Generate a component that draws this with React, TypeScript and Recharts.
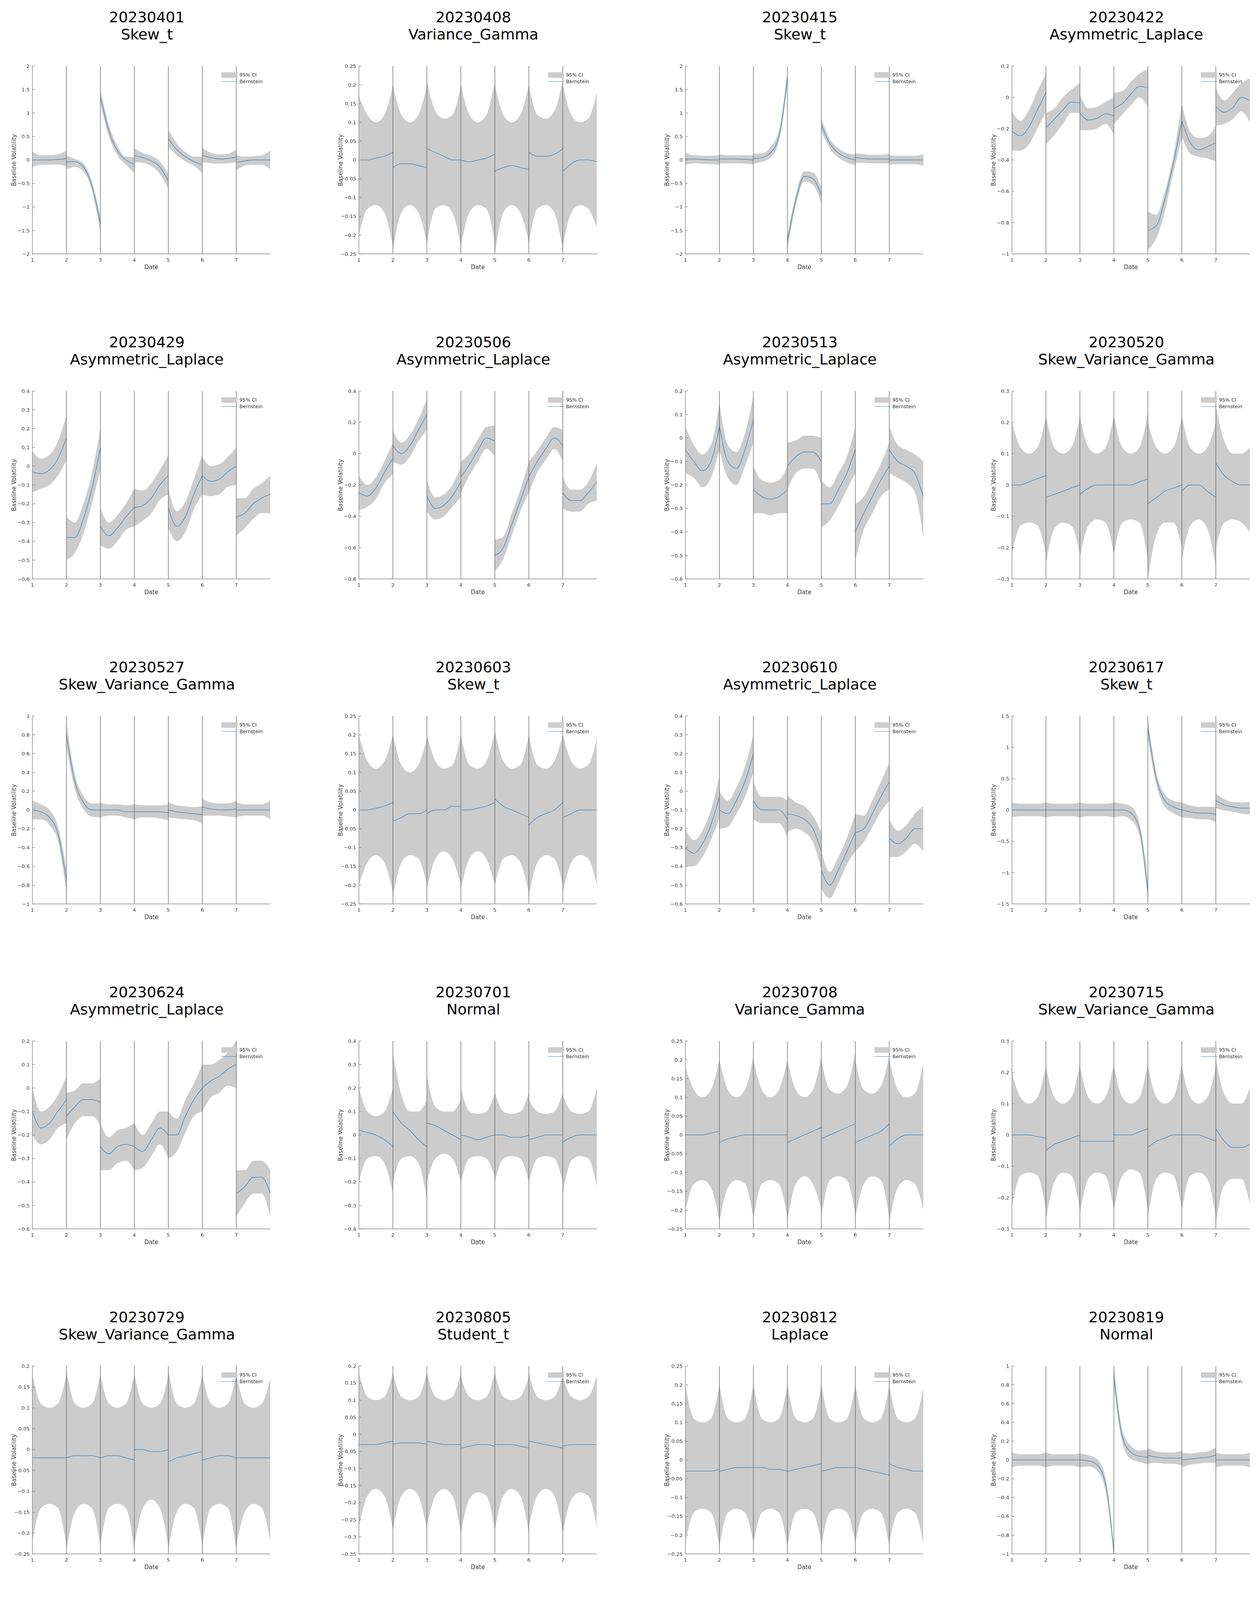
import React from 'react';
import { ComposedChart, Area, Line, XAxis, YAxis, ReferenceLine } from 'recharts';

// panel titles
const dates = [
  '20230401', '20230408', '20230415', '20230422',
  '20230429', '20230506', '20230513', '20230520',
  '20230527', '20230603', '20230610', '20230617',
  '20230624', '20230701', '20230708', '20230715',
  '20230729', '20230805', '20230812', '20230819',
  '20230826', '20230902', '20230909', '20230916',
  '20230923', '20230930', '20231007', '20231014',
];
const dists = [
  'Skew_t', 'Variance_Gamma', 'Skew_t', 'Asymmetric_Laplace',
  'Asymmetric_Laplace', 'Asymmetric_Laplace', 'Asymmetric_Laplace', 'Skew_Variance_Gamma',
  'Skew_Variance_Gamma', 'Skew_t', 'Asymmetric_Laplace', 'Skew_t',
  'Asymmetric_Laplace', 'Normal', 'Variance_Gamma', 'Skew_Variance_Gamma',
  'Skew_Variance_Gamma', 'Student_t', 'Laplace', 'Normal',
  'Variance_Gamma', 'Skew_Variance_Gamma', 'Skew_Variance_Gamma', 'Skew_Variance_Gamma',
  'Asymmetric_Laplace', 'Skew_t', 'Skew_Variance_Gamma', 'Asymmetric_Laplace',
];

// y axis ranges
const yMin = [-2, -0.25, -2, -1, -0.6, -0.8, -0.6, -0.3, -1, -0.25, -0.6, -1.5, -0.6, -0.4, -0.25, -0.3, -0.25, -0.35, -0.25, -1, -0.25, -0.25, -0.25, -0.8, -0.25, -0.25, -0.6, -0.3];
const yMax = [2, 0.25, 2, 0.2, 0.4, 0.4, 0.2, 0.3, 1, 0.25, 0.4, 1.5, 0.2, 0.4, 0.25, 0.3, 0.2, 0.2, 0.25, 1, 0.25, 0.25, 0.25, 0.4, 0.2, 0.25, 0.2, 0.3];
const yStep = [0.5, 0.05, 0.5, 0.2, 0.1, 0.2, 0.1, 0.1, 0.2, 0.05, 0.1, 0.5, 0.1, 0.1, 0.05, 0.1, 0.05, 0.05, 0.05, 0.2, 0.05, 0.05, 0.05, 0.2, 0.05, 0.05, 0.1, 0.1];

// x: each day segment is sampled at these fractions
const sampleOffsets = [0, 0.25, 0.5, 0.75, 1];
const dayTicks = [1, 2, 3, 4, 5, 6, 7];
const dayBreaks = [2, 3, 4, 5, 6, 7];

// Bernstein estimate, per panel, per day, per sample
const mean: number[][][] = [
  [[0, 0, 0, 0.01, 0.03], [-0.04, -0.04, -0.15, -0.55, -1.35], [1.35, 0.62, 0.2, 0, -0.09], [0.09, 0.05, -0.02, -0.15, -0.45], [0.45, 0.22, 0.07, -0.03, -0.1], [0.1, 0.05, 0.02, 0.03, 0.06], [-0.05, -0.02, 0, 0, 0]],
  [[0, 0, 0.005, 0.01, 0.02], [-0.02, -0.01, -0.01, -0.015, -0.02], [0.03, 0.02, 0.01, 0, 0], [0, -0.005, 0, 0.005, 0.015], [-0.03, -0.02, -0.015, -0.02, -0.025], [0.02, 0.01, 0.01, 0.015, 0.03], [-0.03, -0.01, 0, 0, -0.005]],
  [[0.02, 0.02, 0.01, 0, 0], [0.02, 0.02, 0.02, 0.01, 0], [0.03, 0.05, 0.15, 0.5, 1.75], [-1.75, -0.85, -0.35, -0.4, -0.75], [0.75, 0.35, 0.15, 0.05, 0], [0.05, 0.03, 0.02, 0.02, 0.02], [0, 0, 0, 0, 0]],
  [[-0.215, -0.245, -0.19, -0.08, 0.03], [-0.195, -0.14, -0.08, -0.03, -0.035], [-0.1, -0.145, -0.135, -0.105, -0.12], [-0.07, -0.04, 0.02, 0.07, 0.06], [-0.85, -0.82, -0.65, -0.42, -0.15], [-0.15, -0.29, -0.335, -0.315, -0.29], [-0.06, -0.095, -0.065, 0, -0.02]],
  [[-0.03, -0.04, -0.02, 0.04, 0.15], [-0.38, -0.38, -0.28, -0.12, 0.1], [-0.32, -0.37, -0.33, -0.27, -0.22], [-0.22, -0.21, -0.17, -0.1, -0.05], [-0.22, -0.32, -0.27, -0.15, -0.05], [-0.05, -0.08, -0.07, -0.03, 0], [-0.27, -0.25, -0.2, -0.17, -0.15]],
  [[-0.25, -0.27, -0.22, -0.12, -0.03], [0.05, 0, 0.05, 0.15, 0.25], [-0.27, -0.35, -0.33, -0.27, -0.18], [-0.15, -0.07, 0.02, 0.1, 0.08], [-0.65, -0.6, -0.45, -0.3, -0.15], [-0.15, -0.05, 0.03, 0.1, 0.05], [-0.25, -0.3, -0.3, -0.25, -0.18]],
  [[-0.05, -0.1, -0.14, -0.1, 0.05], [0.05, -0.1, -0.13, -0.05, 0.08], [-0.22, -0.25, -0.26, -0.25, -0.22], [-0.12, -0.08, -0.06, -0.06, -0.1], [-0.28, -0.28, -0.22, -0.15, -0.05], [-0.4, -0.32, -0.25, -0.18, -0.12], [-0.05, -0.1, -0.12, -0.15, -0.25]],
  [[0, 0, 0.01, 0.02, 0.03], [-0.04, -0.03, -0.02, -0.01, 0], [-0.03, -0.01, 0, 0, 0], [0, 0, 0, 0.01, 0.02], [-0.06, -0.04, -0.02, -0.01, 0], [-0.02, 0, 0, -0.02, -0.04], [0.07, 0.03, 0.01, 0, 0]],
  [[0, -0.02, -0.08, -0.25, -0.75], [0.8, 0.3, 0.08, 0, 0], [0, 0, 0, -0.02, -0.02], [-0.02, -0.02, -0.02, -0.02, -0.03], [0, -0.02, -0.03, -0.04, -0.05], [0.03, 0.01, 0, 0, 0.01], [0, 0, 0, 0, 0]],
  [[0, 0, 0.005, 0.01, 0.02], [-0.03, -0.02, -0.01, -0.01, 0], [-0.01, 0, 0, 0.01, 0.01], [0, 0, 0.005, 0.01, 0.02], [0.03, 0.01, 0, -0.01, -0.02], [-0.04, -0.02, -0.01, 0, 0.02], [-0.02, -0.01, 0, 0, 0]],
  [[-0.3, -0.33, -0.28, -0.18, -0.03], [-0.1, -0.12, -0.05, 0.05, 0.2], [-0.05, -0.1, -0.1, -0.1, -0.15], [-0.12, -0.13, -0.15, -0.2, -0.32], [-0.42, -0.5, -0.42, -0.32, -0.22], [-0.22, -0.2, -0.12, -0.03, 0.05], [-0.25, -0.28, -0.25, -0.2, -0.2]],
  [[0, 0, 0, 0, 0], [0, 0, 0, 0, 0], [0, 0, 0, 0, 0], [0, 0, -0.05, -0.3, -1.3], [1.3, 0.5, 0.15, 0.05, 0], [0, -0.03, -0.05, -0.05, -0.07], [0.15, 0.08, 0.05, 0.03, 0.03]],
  [[-0.1, -0.17, -0.15, -0.1, -0.05], [-0.12, -0.08, -0.05, -0.05, -0.06], [-0.25, -0.28, -0.25, -0.24, -0.25], [-0.25, -0.27, -0.22, -0.17, -0.2], [-0.2, -0.2, -0.12, -0.05, 0], [0, 0.03, 0.05, 0.08, 0.1], [-0.45, -0.42, -0.38, -0.38, -0.45]],
  [[0.02, 0.01, 0, -0.02, -0.05], [0.1, 0.05, 0.02, -0.02, -0.05], [0.05, 0.04, 0.02, 0, -0.02], [0, -0.01, -0.02, -0.01, 0], [0, 0, -0.01, -0.01, 0], [-0.02, -0.01, 0, 0, 0], [-0.03, -0.01, 0, 0, 0]],
  [[0, 0, 0, 0.005, 0.01], [-0.02, -0.01, -0.005, 0, 0], [0, 0, 0, 0, 0], [-0.02, -0.01, 0, 0.01, 0.02], [-0.01, 0, 0.01, 0.02, 0.03], [-0.02, -0.01, 0, 0.01, 0.03], [-0.03, -0.01, 0, 0, 0]],
  [[0, 0, 0, -0.005, -0.01], [-0.05, -0.03, -0.02, -0.01, 0], [-0.02, -0.02, -0.02, -0.02, -0.02], [0, 0, 0, 0.01, 0.02], [-0.04, -0.02, -0.01, 0, 0], [0, 0, 0, -0.01, -0.02], [0.02, -0.02, -0.04, -0.04, -0.03]],
  [[-0.02, -0.02, -0.02, -0.02, -0.02], [-0.02, -0.015, -0.015, -0.015, -0.02], [-0.02, -0.015, -0.015, -0.02, -0.025], [0, 0, -0.005, -0.005, 0], [-0.03, -0.02, -0.015, -0.01, -0.005], [-0.025, -0.02, -0.015, -0.015, -0.02], [-0.02, -0.02, -0.02, -0.02, -0.02]],
  [[-0.03, -0.03, -0.03, -0.025, -0.02], [-0.03, -0.025, -0.025, -0.025, -0.03], [-0.02, -0.025, -0.03, -0.03, -0.03], [-0.04, -0.035, -0.03, -0.03, -0.035], [-0.03, -0.03, -0.03, -0.035, -0.04], [-0.02, -0.025, -0.03, -0.035, -0.04], [-0.035, -0.03, -0.03, -0.03, -0.03]],
  [[-0.03, -0.03, -0.03, -0.03, -0.025], [-0.03, -0.025, -0.02, -0.02, -0.02], [-0.02, -0.02, -0.025, -0.025, -0.03], [-0.03, -0.025, -0.02, -0.015, -0.01], [-0.03, -0.025, -0.02, -0.02, -0.02], [-0.02, -0.025, -0.03, -0.035, -0.04], [-0.01, -0.02, -0.025, -0.03, -0.03]],
  [[0, 0, 0, 0, 0], [0, 0, 0, 0, 0], [0, -0.01, -0.05, -0.25, -1], [0.9, 0.25, 0.08, 0.04, 0.03], [0.05, 0.03, 0.02, 0.02, 0.02], [0, 0.01, 0.02, 0.03, 0.05], [0, 0, 0, 0, 0]],
  [[-0.01, -0.01, -0.005, 0, 0], [0, 0.005, 0.005, 0, -0.01], [0.01, 0.005, 0, 0, 0], [0, 0, 0, 0.005, 0.01], [-0.02, -0.015, -0.01, -0.005, 0.01], [-0.02, -0.015, -0.01, -0.015, -0.02], [0.01, 0.005, 0, 0, 0]],
  [[0, 0.005, 0.01, 0.02, 0.03], [-0.02, -0.01, 0, 0.01, 0.02], [-0.03, -0.02, -0.01, -0.005, 0], [0, -0.01, 0, 0.01, 0.03], [-0.02, -0.02, -0.02, -0.02, -0.02], [0.01, 0, -0.005, -0.005, 0], [0, 0, 0, 0, -0.005]],
  [[0, 0, 0, 0, -0.01], [-0.01, -0.005, 0, 0.005, 0.01], [-0.02, -0.015, -0.01, -0.01, -0.01], [0.01, 0, -0.01, -0.01, -0.01], [0, -0.01, -0.015, -0.02, -0.02], [0, 0, 0.005, 0.01, 0.02], [-0.03, -0.015, -0.005, 0, 0]],
  [[0.05, -0.05, -0.12, -0.2, -0.28], [-0.15, -0.25, -0.28, -0.2, 0], [-0.35, -0.32, -0.28, -0.22, -0.17], [-0.55, -0.4, -0.28, -0.18, -0.15], [-0.25, -0.22, -0.2, -0.2, -0.25], [-0.2, -0.25, -0.25, -0.22, -0.18], [0, -0.08, -0.12, -0.13, -0.2]],
  [[-0.005, -0.008, -0.01, -0.013, -0.018], [0.001, -0.005, -0.008, -0.01, -0.015], [-0.001, -0.003, -0.004, -0.004, -0.002], [-0.013, -0.012, -0.012, -0.013, -0.017], [0.003, -0.002, -0.006, -0.007, -0.007], [-0.01, -0.01, -0.01, -0.007, 0], [-0.015, -0.008, -0.004, -0.004, -0.006]],
  [[-0.005, 0, 0.005, 0.01, 0.02], [-0.03, -0.02, -0.01, -0.01, -0.01], [-0.01, -0.01, -0.01, -0.005, 0], [0, -0.01, -0.01, -0.01, -0.02], [0.02, 0.01, 0, -0.01, -0.02], [0.01, 0.01, 0, 0, 0], [0, 0, 0, 0, 0]],
  [[-0.08, -0.08, -0.1, -0.16, -0.3], [-0.32, -0.22, -0.12, -0.05, 0.02], [-0.25, -0.25, -0.22, -0.18, -0.15], [-0.2, -0.17, -0.12, -0.1, -0.15], [-0.35, -0.3, -0.27, -0.27, -0.3], [-0.3, -0.18, -0.08, -0.02, -0.05], [-0.28, -0.38, -0.3, -0.18, -0.08]],
  [[0, 0, 0, 0, 0], [0, 0, 0, 0.01, 0.02], [-0.02, -0.01, 0, 0.01, 0.03], [0.01, 0, -0.01, -0.01, -0.02], [0.02, 0, -0.01, -0.01, 0], [-0.01, -0.02, -0.02, -0.01, 0.02], [0.02, 0, -0.01, -0.01, -0.01]],
];

// upper edge of the 95% CI
const upper: number[][][] = [
  [[0.18, 0.1, 0.1, 0.12, 0.2], [0.1, 0.02, -0.07, -0.45, -1.2], [1.5, 0.75, 0.3, 0.07, 0.06], [0.25, 0.15, 0.09, -0.03, -0.3], [0.65, 0.35, 0.17, 0.07, 0.07], [0.27, 0.15, 0.12, 0.13, 0.23], [0.1, 0.07, 0.08, 0.1, 0.2]],
  [[0.17, 0.12, 0.1, 0.12, 0.2], [0.2, 0.12, 0.1, 0.12, 0.2], [0.21, 0.13, 0.11, 0.12, 0.2], [0.2, 0.12, 0.1, 0.12, 0.21], [0.2, 0.12, 0.1, 0.12, 0.2], [0.2, 0.12, 0.11, 0.13, 0.21], [0.2, 0.12, 0.1, 0.11, 0.18]],
  [[0.15, 0.1, 0.09, 0.09, 0.1], [0.12, 0.1, 0.1, 0.1, 0.1], [0.13, 0.14, 0.27, 0.63, 1.88], [-1.6, -0.73, -0.24, -0.27, -0.58], [0.88, 0.45, 0.25, 0.15, 0.12], [0.15, 0.12, 0.11, 0.11, 0.13], [0.1, 0.09, 0.09, 0.09, 0.12]],
  [[-0.09, -0.15, -0.08, 0.04, 0.15], [-0.1, -0.07, 0, 0.05, 0.09], [0.02, -0.07, -0.06, -0.03, 0], [0.03, 0.04, 0.1, 0.15, 0.18], [-0.73, -0.75, -0.6, -0.37, -0.04], [-0.04, -0.22, -0.26, -0.25, -0.18], [0.06, -0.02, 0.03, 0.09, 0.12]],
  [[0.08, 0.04, 0.06, 0.13, 0.27], [-0.27, -0.3, -0.2, -0.04, 0.2], [-0.22, -0.3, -0.26, -0.2, -0.12], [-0.12, -0.13, -0.09, -0.02, 0.06], [-0.12, -0.24, -0.19, -0.07, 0.06], [0.05, 0, 0.01, 0.05, 0.1], [-0.17, -0.17, -0.12, -0.09, -0.05]],
  [[-0.14, -0.2, -0.15, -0.05, 0.07], [0.15, 0.07, 0.12, 0.22, 0.35], [-0.17, -0.28, -0.26, -0.2, -0.08], [-0.05, 0, 0.09, 0.17, 0.18], [-0.55, -0.53, -0.38, -0.23, -0.05], [-0.05, 0.02, 0.1, 0.17, 0.15], [-0.15, -0.23, -0.23, -0.18, -0.06]],
  [[0.05, -0.03, -0.07, -0.03, 0.15], [0.15, -0.03, -0.06, 0.02, 0.18], [-0.12, -0.18, -0.19, -0.18, -0.12], [-0.02, -0.01, 0.01, 0.01, 0], [-0.18, -0.21, -0.15, -0.08, 0.05], [-0.28, -0.25, -0.18, -0.11, -0.02], [0.05, -0.03, -0.05, -0.07, -0.1]],
  [[0.2, 0.12, 0.1, 0.12, 0.22], [0.22, 0.12, 0.1, 0.12, 0.22], [0.22, 0.12, 0.1, 0.12, 0.22], [0.22, 0.12, 0.1, 0.12, 0.23], [0.2, 0.12, 0.1, 0.12, 0.22], [0.22, 0.12, 0.1, 0.12, 0.2], [0.25, 0.14, 0.1, 0.1, 0.12]],
  [[0.1, 0.06, 0, -0.17, -0.62], [0.93, 0.38, 0.15, 0.07, 0.07], [0.08, 0.06, 0.06, 0.05, 0.06], [0.06, 0.05, 0.05, 0.05, 0.06], [0.08, 0.05, 0.04, 0.03, 0.04], [0.12, 0.08, 0.07, 0.07, 0.1], [0.08, 0.06, 0.06, 0.06, 0.1]],
  [[0.2, 0.13, 0.11, 0.13, 0.2], [0.2, 0.12, 0.1, 0.12, 0.19], [0.2, 0.13, 0.11, 0.12, 0.2], [0.2, 0.12, 0.11, 0.13, 0.21], [0.21, 0.13, 0.11, 0.12, 0.2], [0.2, 0.12, 0.11, 0.13, 0.2], [0.2, 0.13, 0.11, 0.12, 0.19]],
  [[-0.2, -0.26, -0.21, -0.1, 0.08], [0, -0.05, 0.02, 0.13, 0.3], [0.05, -0.03, -0.03, -0.03, -0.05], [-0.02, -0.06, -0.08, -0.13, -0.22], [-0.32, -0.43, -0.35, -0.25, -0.12], [-0.12, -0.13, -0.05, 0.05, 0.15], [-0.15, -0.21, -0.18, -0.12, -0.08]],
  [[0.12, 0.1, 0.1, 0.1, 0.12], [0.12, 0.1, 0.1, 0.1, 0.12], [0.12, 0.1, 0.1, 0.1, 0.12], [0.12, 0.1, 0.06, -0.2, -1.15], [1.45, 0.6, 0.25, 0.15, 0.12], [0.12, 0.07, 0.05, 0.05, 0.05], [0.27, 0.17, 0.13, 0.12, 0.13]],
  [[0, -0.1, -0.08, -0.03, 0.05], [-0.02, -0.01, 0.02, 0.02, 0.04], [-0.15, -0.21, -0.18, -0.17, -0.15], [-0.15, -0.2, -0.15, -0.1, -0.1], [-0.1, -0.13, -0.05, 0.02, 0.1], [0.1, 0.1, 0.12, 0.15, 0.2], [-0.35, -0.35, -0.31, -0.31, -0.35]],
  [[0.2, 0.1, 0.08, 0.1, 0.2], [0.35, 0.17, 0.1, 0.1, 0.15], [0.25, 0.12, 0.1, 0.1, 0.15], [0.2, 0.1, 0.09, 0.1, 0.18], [0.18, 0.1, 0.09, 0.1, 0.18], [0.15, 0.1, 0.09, 0.1, 0.18], [0.17, 0.1, 0.09, 0.1, 0.2]],
  [[0.18, 0.12, 0.1, 0.12, 0.2], [0.2, 0.12, 0.1, 0.12, 0.21], [0.2, 0.12, 0.1, 0.12, 0.2], [0.2, 0.12, 0.1, 0.12, 0.21], [0.2, 0.12, 0.11, 0.13, 0.22], [0.2, 0.12, 0.11, 0.13, 0.21], [0.2, 0.12, 0.1, 0.11, 0.19]],
  [[0.2, 0.12, 0.1, 0.12, 0.22], [0.22, 0.12, 0.1, 0.12, 0.23], [0.22, 0.12, 0.1, 0.12, 0.23], [0.22, 0.12, 0.1, 0.12, 0.23], [0.22, 0.12, 0.1, 0.12, 0.23], [0.22, 0.12, 0.1, 0.12, 0.22], [0.24, 0.13, 0.1, 0.1, 0.15]],
  [[0.18, 0.11, 0.1, 0.11, 0.18], [0.19, 0.11, 0.1, 0.11, 0.18], [0.18, 0.11, 0.1, 0.11, 0.18], [0.18, 0.11, 0.1, 0.11, 0.18], [0.19, 0.11, 0.1, 0.11, 0.18], [0.18, 0.11, 0.1, 0.11, 0.18], [0.18, 0.11, 0.1, 0.11, 0.17]],
  [[0.18, 0.11, 0.1, 0.11, 0.18], [0.18, 0.11, 0.1, 0.11, 0.18], [0.18, 0.11, 0.1, 0.11, 0.18], [0.17, 0.11, 0.1, 0.11, 0.18], [0.18, 0.11, 0.1, 0.11, 0.17], [0.18, 0.11, 0.1, 0.11, 0.17], [0.17, 0.11, 0.1, 0.11, 0.17]],
  [[0.2, 0.11, 0.1, 0.11, 0.2], [0.2, 0.11, 0.1, 0.11, 0.2], [0.2, 0.11, 0.1, 0.11, 0.2], [0.2, 0.11, 0.1, 0.11, 0.2], [0.2, 0.11, 0.1, 0.11, 0.2], [0.2, 0.11, 0.1, 0.11, 0.2], [0.2, 0.11, 0.1, 0.11, 0.19]],
  [[0.08, 0.06, 0.06, 0.06, 0.08], [0.08, 0.06, 0.06, 0.06, 0.07], [0.07, 0.05, 0.01, -0.18, -0.9], [1, 0.32, 0.15, 0.1, 0.11], [0.13, 0.09, 0.08, 0.08, 0.1], [0.08, 0.07, 0.08, 0.09, 0.13], [0.08, 0.06, 0.06, 0.06, 0.08]],
  [[0.19, 0.12, 0.1, 0.12, 0.2], [0.2, 0.12, 0.1, 0.12, 0.2], [0.2, 0.12, 0.1, 0.12, 0.2], [0.2, 0.12, 0.1, 0.12, 0.21], [0.2, 0.12, 0.1, 0.12, 0.21], [0.2, 0.12, 0.1, 0.12, 0.2], [0.2, 0.12, 0.1, 0.11, 0.19]],
  [[0.19, 0.12, 0.1, 0.12, 0.21], [0.2, 0.12, 0.1, 0.12, 0.22], [0.2, 0.12, 0.1, 0.12, 0.2], [0.2, 0.12, 0.1, 0.12, 0.22], [0.2, 0.12, 0.1, 0.12, 0.2], [0.2, 0.12, 0.1, 0.12, 0.2], [0.2, 0.12, 0.1, 0.11, 0.19]],
  [[0.19, 0.12, 0.1, 0.12, 0.2], [0.2, 0.12, 0.1, 0.12, 0.21], [0.2, 0.12, 0.1, 0.12, 0.2], [0.21, 0.12, 0.1, 0.12, 0.2], [0.2, 0.12, 0.1, 0.12, 0.2], [0.2, 0.12, 0.1, 0.12, 0.21], [0.2, 0.12, 0.1, 0.11, 0.19]],
  [[0.18, 0.05, -0.03, -0.11, -0.16], [-0.03, -0.16, -0.2, -0.11, 0.12], [-0.23, -0.24, -0.2, -0.14, -0.05], [-0.43, -0.31, -0.2, -0.1, -0.03], [-0.13, -0.14, -0.12, -0.12, -0.13], [-0.08, -0.17, -0.17, -0.14, -0.06], [0.12, 0.01, -0.04, -0.05, -0.08]],
  [[0.2, 0.12, 0.095, 0.11, 0.17], [0.18, 0.11, 0.11, 0.115, 0.17], [0.18, 0.11, 0.11, 0.115, 0.17], [0.17, 0.1, 0.09, 0.105, 0.17], [0.17, 0.11, 0.1, 0.11, 0.17], [0.17, 0.11, 0.1, 0.11, 0.16], [0.16, 0.11, 0.105, 0.12, 0.19]],
  [[0.2, 0.12, 0.1, 0.12, 0.2], [0.2, 0.12, 0.1, 0.12, 0.2], [0.2, 0.12, 0.1, 0.12, 0.2], [0.2, 0.12, 0.1, 0.12, 0.21], [0.2, 0.12, 0.1, 0.12, 0.2], [0.2, 0.12, 0.1, 0.12, 0.2], [0.2, 0.12, 0.1, 0.11, 0.18]],
  [[0.05, 0, -0.02, -0.08, -0.18], [-0.2, -0.14, -0.04, 0.03, 0.14], [-0.13, -0.17, -0.14, -0.1, -0.03], [-0.08, -0.09, -0.04, -0.02, -0.03], [-0.23, -0.22, -0.19, -0.19, -0.18], [-0.18, -0.1, 0, 0.06, 0.07], [-0.16, -0.3, -0.22, -0.1, 0.04]],
  [[0.2, 0.11, 0.1, 0.11, 0.2], [0.2, 0.11, 0.1, 0.11, 0.21], [0.21, 0.11, 0.1, 0.12, 0.22], [0.2, 0.11, 0.1, 0.11, 0.2], [0.2, 0.11, 0.1, 0.11, 0.2], [0.2, 0.11, 0.1, 0.11, 0.2], [0.2, 0.11, 0.1, 0.11, 0.19]],
];

// lower edge of the 95% CI
const lower: number[][][] = [
  [[-0.15, -0.1, -0.1, -0.1, -0.13], [-0.2, -0.15, -0.25, -0.65, -1.55], [1.2, 0.5, 0.1, -0.1, -0.27], [-0.05, -0.06, -0.13, -0.3, -0.62], [0.28, 0.1, -0.03, -0.12, -0.28], [-0.05, -0.07, -0.08, -0.07, -0.05], [-0.22, -0.12, -0.1, -0.1, -0.2]],
  [[-0.2, -0.13, -0.12, -0.14, -0.23], [-0.24, -0.14, -0.12, -0.14, -0.22], [-0.22, -0.13, -0.12, -0.14, -0.23], [-0.23, -0.14, -0.12, -0.13, -0.22], [-0.25, -0.14, -0.12, -0.14, -0.22], [-0.22, -0.13, -0.12, -0.14, -0.24], [-0.23, -0.14, -0.12, -0.13, -0.18]],
  [[-0.1, -0.07, -0.08, -0.09, -0.1], [-0.08, -0.07, -0.07, -0.08, -0.1], [-0.08, -0.04, 0.05, 0.38, 1.6], [-1.9, -0.97, -0.46, -0.53, -0.92], [0.6, 0.25, 0.05, -0.05, -0.12], [-0.06, -0.06, -0.07, -0.07, -0.08], [-0.1, -0.09, -0.09, -0.09, -0.12]],
  [[-0.34, -0.34, -0.3, -0.2, -0.09], [-0.3, -0.24, -0.17, -0.1, -0.1], [-0.21, -0.21, -0.2, -0.17, -0.24], [-0.17, -0.11, -0.05, 0, -0.06], [-0.97, -0.9, -0.73, -0.48, -0.26], [-0.25, -0.36, -0.38, -0.39, -0.41], [-0.18, -0.17, -0.14, -0.09, -0.16]],
  [[-0.14, -0.12, -0.1, -0.05, 0.03], [-0.5, -0.46, -0.36, -0.2, -0.02], [-0.42, -0.44, -0.4, -0.34, -0.32], [-0.32, -0.29, -0.25, -0.18, -0.15], [-0.33, -0.4, -0.35, -0.23, -0.15], [-0.15, -0.16, -0.15, -0.11, -0.1], [-0.37, -0.33, -0.28, -0.25, -0.25]],
  [[-0.36, -0.34, -0.29, -0.19, -0.13], [-0.05, -0.07, -0.02, 0.08, 0.15], [-0.37, -0.42, -0.4, -0.34, -0.28], [-0.25, -0.14, -0.05, 0.03, -0.02], [-0.75, -0.67, -0.52, -0.37, -0.25], [-0.25, -0.12, -0.04, 0.03, -0.05], [-0.35, -0.37, -0.37, -0.32, -0.3]],
  [[-0.15, -0.17, -0.21, -0.17, -0.05], [-0.05, -0.17, -0.2, -0.12, -0.02], [-0.32, -0.32, -0.33, -0.32, -0.32], [-0.22, -0.15, -0.13, -0.13, -0.2], [-0.38, -0.35, -0.29, -0.22, -0.15], [-0.52, -0.39, -0.32, -0.25, -0.22], [-0.15, -0.17, -0.19, -0.23, -0.42]],
  [[-0.22, -0.13, -0.12, -0.13, -0.22], [-0.25, -0.14, -0.12, -0.13, -0.22], [-0.23, -0.13, -0.11, -0.12, -0.22], [-0.22, -0.12, -0.11, -0.12, -0.24], [-0.3, -0.16, -0.12, -0.12, -0.2], [-0.24, -0.13, -0.11, -0.14, -0.26], [-0.2, -0.12, -0.11, -0.12, -0.15]],
  [[-0.1, -0.1, -0.16, -0.33, -0.88], [0.67, 0.22, 0.01, -0.07, -0.08], [-0.08, -0.06, -0.06, -0.08, -0.1], [-0.1, -0.08, -0.08, -0.09, -0.11], [-0.08, -0.09, -0.1, -0.11, -0.14], [-0.06, -0.06, -0.06, -0.07, -0.08], [-0.08, -0.06, -0.06, -0.06, -0.1]],
  [[-0.2, -0.14, -0.12, -0.14, -0.22], [-0.23, -0.14, -0.12, -0.13, -0.2], [-0.21, -0.13, -0.11, -0.13, -0.2], [-0.21, -0.13, -0.11, -0.13, -0.2], [-0.2, -0.13, -0.12, -0.14, -0.22], [-0.23, -0.14, -0.12, -0.13, -0.2], [-0.22, -0.14, -0.12, -0.13, -0.2]],
  [[-0.4, -0.4, -0.35, -0.26, -0.14], [-0.2, -0.19, -0.12, -0.03, 0.1], [-0.15, -0.17, -0.17, -0.17, -0.25], [-0.22, -0.2, -0.22, -0.27, -0.42], [-0.52, -0.57, -0.49, -0.39, -0.32], [-0.32, -0.27, -0.19, -0.11, -0.05], [-0.35, -0.35, -0.32, -0.28, -0.32]],
  [[-0.12, -0.1, -0.1, -0.1, -0.12], [-0.12, -0.1, -0.1, -0.1, -0.12], [-0.12, -0.1, -0.1, -0.1, -0.12], [-0.12, -0.1, -0.16, -0.4, -1.45], [1.15, 0.4, 0.05, -0.05, -0.12], [-0.12, -0.13, -0.15, -0.15, -0.2], [0.03, -0.01, -0.03, -0.06, -0.07]],
  [[-0.2, -0.24, -0.22, -0.17, -0.15], [-0.22, -0.15, -0.12, -0.12, -0.16], [-0.35, -0.35, -0.32, -0.31, -0.35], [-0.35, -0.34, -0.29, -0.24, -0.3], [-0.3, -0.27, -0.19, -0.12, -0.1], [-0.1, -0.04, -0.02, 0.01, 0], [-0.55, -0.49, -0.45, -0.45, -0.55]],
  [[-0.2, -0.1, -0.09, -0.12, -0.25], [-0.2, -0.1, -0.09, -0.12, -0.27], [-0.2, -0.1, -0.08, -0.1, -0.2], [-0.2, -0.1, -0.09, -0.1, -0.18], [-0.2, -0.1, -0.09, -0.1, -0.2], [-0.2, -0.1, -0.09, -0.1, -0.2], [-0.25, -0.11, -0.09, -0.1, -0.22]],
  [[-0.2, -0.13, -0.12, -0.14, -0.23], [-0.23, -0.14, -0.12, -0.13, -0.22], [-0.22, -0.13, -0.12, -0.13, -0.22], [-0.23, -0.13, -0.11, -0.13, -0.2], [-0.22, -0.12, -0.11, -0.12, -0.21], [-0.22, -0.13, -0.11, -0.12, -0.22], [-0.23, -0.14, -0.12, -0.13, -0.2]],
  [[-0.23, -0.13, -0.12, -0.13, -0.24], [-0.27, -0.15, -0.12, -0.13, -0.24], [-0.25, -0.14, -0.12, -0.13, -0.24], [-0.24, -0.13, -0.11, -0.12, -0.24], [-0.26, -0.14, -0.12, -0.13, -0.24], [-0.24, -0.13, -0.12, -0.14, -0.26], [-0.28, -0.16, -0.14, -0.14, -0.22]],
  [[-0.22, -0.14, -0.13, -0.14, -0.23], [-0.24, -0.15, -0.13, -0.14, -0.23], [-0.23, -0.14, -0.13, -0.14, -0.24], [-0.23, -0.14, -0.12, -0.14, -0.23], [-0.24, -0.15, -0.13, -0.14, -0.23], [-0.23, -0.14, -0.13, -0.14, -0.24], [-0.23, -0.15, -0.13, -0.14, -0.22]],
  [[-0.27, -0.18, -0.16, -0.18, -0.28], [-0.28, -0.18, -0.16, -0.18, -0.28], [-0.27, -0.18, -0.16, -0.18, -0.29], [-0.29, -0.19, -0.17, -0.18, -0.28], [-0.28, -0.18, -0.16, -0.18, -0.29], [-0.27, -0.18, -0.16, -0.18, -0.29], [-0.29, -0.19, -0.17, -0.18, -0.27]],
  [[-0.22, -0.14, -0.13, -0.14, -0.23], [-0.23, -0.14, -0.13, -0.14, -0.22], [-0.22, -0.14, -0.13, -0.14, -0.23], [-0.23, -0.14, -0.13, -0.14, -0.22], [-0.23, -0.14, -0.13, -0.14, -0.22], [-0.22, -0.14, -0.13, -0.14, -0.23], [-0.22, -0.14, -0.13, -0.14, -0.22]],
  [[-0.08, -0.06, -0.06, -0.06, -0.08], [-0.08, -0.06, -0.06, -0.06, -0.08], [-0.08, -0.07, -0.11, -0.32, -1], [0.78, 0.18, 0.01, -0.02, -0.05], [-0.04, -0.03, -0.04, -0.04, -0.06], [-0.08, -0.05, -0.04, -0.03, -0.03], [-0.08, -0.06, -0.06, -0.06, -0.08]],
  [[-0.21, -0.13, -0.12, -0.13, -0.22], [-0.22, -0.13, -0.12, -0.13, -0.22], [-0.22, -0.13, -0.12, -0.13, -0.22], [-0.22, -0.13, -0.12, -0.13, -0.21], [-0.23, -0.13, -0.12, -0.13, -0.21], [-0.23, -0.14, -0.12, -0.13, -0.22], [-0.21, -0.13, -0.12, -0.13, -0.2]],
  [[-0.21, -0.13, -0.12, -0.13, -0.2], [-0.23, -0.13, -0.12, -0.13, -0.2], [-0.24, -0.14, -0.12, -0.13, -0.21], [-0.22, -0.13, -0.12, -0.13, -0.2], [-0.23, -0.13, -0.12, -0.13, -0.21], [-0.21, -0.13, -0.12, -0.13, -0.21], [-0.22, -0.13, -0.12, -0.13, -0.2]],
  [[-0.21, -0.13, -0.12, -0.13, -0.22], [-0.22, -0.13, -0.12, -0.13, -0.21], [-0.23, -0.14, -0.12, -0.13, -0.21], [-0.21, -0.13, -0.12, -0.13, -0.22], [-0.22, -0.13, -0.12, -0.13, -0.22], [-0.21, -0.13, -0.12, -0.13, -0.21], [-0.23, -0.14, -0.12, -0.13, -0.2]],
  [[-0.08, -0.15, -0.21, -0.29, -0.4], [-0.27, -0.34, -0.36, -0.29, -0.12], [-0.47, -0.4, -0.36, -0.3, -0.29], [-0.67, -0.49, -0.36, -0.26, -0.27], [-0.37, -0.3, -0.28, -0.28, -0.37], [-0.32, -0.33, -0.33, -0.3, -0.3], [-0.12, -0.17, -0.2, -0.21, -0.32]],
  [[-0.2, -0.13, -0.115, -0.13, -0.2], [-0.19, -0.125, -0.12, -0.13, -0.19], [-0.19, -0.115, -0.11, -0.13, -0.2], [-0.2, -0.125, -0.115, -0.125, -0.19], [-0.19, -0.12, -0.12, -0.125, -0.19], [-0.19, -0.125, -0.12, -0.12, -0.19], [-0.19, -0.12, -0.115, -0.125, -0.18]],
  [[-0.21, -0.14, -0.12, -0.14, -0.22], [-0.23, -0.14, -0.12, -0.14, -0.21], [-0.22, -0.14, -0.12, -0.14, -0.22], [-0.21, -0.14, -0.12, -0.14, -0.22], [-0.21, -0.14, -0.12, -0.14, -0.22], [-0.22, -0.14, -0.12, -0.14, -0.21], [-0.22, -0.14, -0.12, -0.13, -0.2]],
  [[-0.21, -0.16, -0.18, -0.24, -0.42], [-0.44, -0.3, -0.2, -0.13, -0.1], [-0.37, -0.33, -0.3, -0.26, -0.27], [-0.32, -0.25, -0.2, -0.18, -0.27], [-0.47, -0.38, -0.35, -0.35, -0.42], [-0.42, -0.26, -0.16, -0.1, -0.17], [-0.4, -0.46, -0.38, -0.26, -0.2]],
  [[-0.22, -0.13, -0.12, -0.13, -0.22], [-0.22, -0.13, -0.12, -0.13, -0.21], [-0.23, -0.13, -0.12, -0.13, -0.21], [-0.22, -0.13, -0.12, -0.13, -0.22], [-0.21, -0.13, -0.12, -0.13, -0.22], [-0.22, -0.13, -0.12, -0.13, -0.21], [-0.21, -0.13, -0.12, -0.13, -0.2]],
];

const CELL_W = 836;
const CELL_H = 832;
const CHART_H = 720;
const PLOT_L = 83;
const PLOT_T = 169;
const PLOT_W = 609;
const PLOT_H = 481;

const FONT = '"DejaVu Sans", Verdana, sans-serif';
const AXIS = '#8a8a8a';
const TEXT = '#404040';
const BAND = '#cccccc';
const BLUE = '#4a86b8';

function fmt(v: number) {
  const r = Math.round(v * 1000) / 1000;
  return r < 0 ? '\u2212' + String(-r) : String(r);
}

function buildRows(i: number) {
  const rows: any[] = [];
  mean[i].forEach((seg, s) => {
    // a null row breaks the curve between days
    if (s > 0) rows.push({ x: s + 1, m: null, band: null });
    seg.forEach((v, k) => {
      rows.push({ x: s + 1 + sampleOffsets[k], m: v, band: [lower[i][s][k], upper[i][s][k]] });
    });
  });
  return rows;
}

function yTicks(i: number) {
  const n = Math.round((yMax[i] - yMin[i]) / yStep[i]);
  return Array.from({ length: n + 1 }, (_, k) => Math.round((yMin[i] + k * yStep[i]) * 1000) / 1000);
}

function YTick(props: any) {
  const { x, y, payload } = props;
  return (
    <g>
      <text x={x} y={y} dy="0.36em" textAnchor="end" fontSize={13} fill={TEXT} fontFamily={FONT}>
        {fmt(payload.value)}
      </text>
      <line x1={x + 7} x2={x + 13} y1={y} y2={y} stroke={AXIS} strokeWidth={1.5} />
    </g>
  );
}

function XTick(props: any) {
  const { x, y, payload } = props;
  return (
    <text x={x} y={y} dy="0.9em" textAnchor="middle" fontSize={13} fill={TEXT} fontFamily={FONT}>
      {payload.value}
    </text>
  );
}

function Panel({ i }: { i: number }) {
  const rows = buildRows(i);
  const row = Math.floor(i / 4);
  const col = i % 4;
  return (
    <div style={{ position: 'absolute', left: col * CELL_W, top: row * CELL_H, width: CELL_W, height: CELL_H }}>
      <div
        style={{
          position: 'absolute', left: 0, top: 22, width: 752, textAlign: 'center',
          fontFamily: FONT, fontSize: 38, lineHeight: '44px', color: '#000',
        }}
      >
        {dates[i]}
        <br />
        {dists[i]}
      </div>
      <div style={{ position: 'absolute', left: 0, top: 0 }}>
        <ComposedChart
          width={CELL_W}
          height={CHART_H}
          data={rows}
          margin={{ top: PLOT_T, left: PLOT_L - 1, right: CELL_W - PLOT_L - PLOT_W, bottom: CHART_H - PLOT_T - PLOT_H - 1 }}
        >
          <XAxis
            dataKey="x" type="number" domain={[1, 8]} ticks={dayTicks} interval={0}
            height={1} tickSize={0} tickMargin={8} tickLine={false} tick={<XTick />}
            axisLine={{ stroke: AXIS, strokeWidth: 1.5 }} allowDataOverflow
          />
          <YAxis
            type="number" domain={[yMin[i], yMax[i]]} ticks={yTicks(i)} interval={0}
            width={1} tickSize={0} tickMargin={7} tickLine={false} tick={<YTick />}
            axisLine={{ stroke: AXIS, strokeWidth: 1.5 }} allowDataOverflow
          />
          <Area
            dataKey="band" type="monotone" fill={BAND} fillOpacity={1} stroke="none"
            activeDot={false} connectNulls={false} isAnimationActive={false}
          />
          <Line
            dataKey="m" type="monotone" stroke={BLUE} strokeWidth={1.5} dot={false}
            activeDot={false} connectNulls={false} isAnimationActive={false}
          />
          {dayBreaks.map((d) => (
            <ReferenceLine key={d} x={d} stroke="#555555" strokeWidth={1.2} />
          ))}
        </ComposedChart>
      </div>
      <div
        style={{
          position: 'absolute', left: PLOT_L - 47, top: PLOT_T + PLOT_H / 2,
          transform: 'translate(-50%, -50%) rotate(-90deg)', whiteSpace: 'nowrap',
          fontFamily: FONT, fontSize: 15, color: TEXT,
        }}
      >
        Baseline Volatility
      </div>
      <div
        style={{
          position: 'absolute', left: PLOT_L + PLOT_W / 2, top: PLOT_T + PLOT_H + 34,
          transform: 'translate(-50%, -50%)', fontFamily: FONT, fontSize: 15, color: TEXT,
        }}
      >
        Date
      </div>
      <div
        style={{
          position: 'absolute', left: PLOT_L + 484, top: PLOT_T + 14,
          fontFamily: FONT, fontSize: 12.5, lineHeight: '17px', color: '#333',
        }}
      >
        <div style={{ display: 'flex', alignItems: 'center' }}>
          <span style={{ display: 'inline-block', width: 41, height: 14, background: BAND, marginRight: 5 }} />
          95% CI
        </div>
        <div style={{ display: 'flex', alignItems: 'center' }}>
          <span style={{ display: 'inline-block', width: 41, height: 0, borderTop: `1.5px solid ${BLUE}`, marginRight: 5 }} />
          Bernstein
        </div>
      </div>
    </div>
  );
}

export default function App() {
  return (
    <div style={{ position: 'relative', width: 3221, height: 5704, background: '#fff', overflow: 'hidden' }}>
      <style>{'body{margin:0}'}</style>
      {dates.map((_, i) => (
        <Panel key={i} i={i} />
      ))}
    </div>
  );
}
